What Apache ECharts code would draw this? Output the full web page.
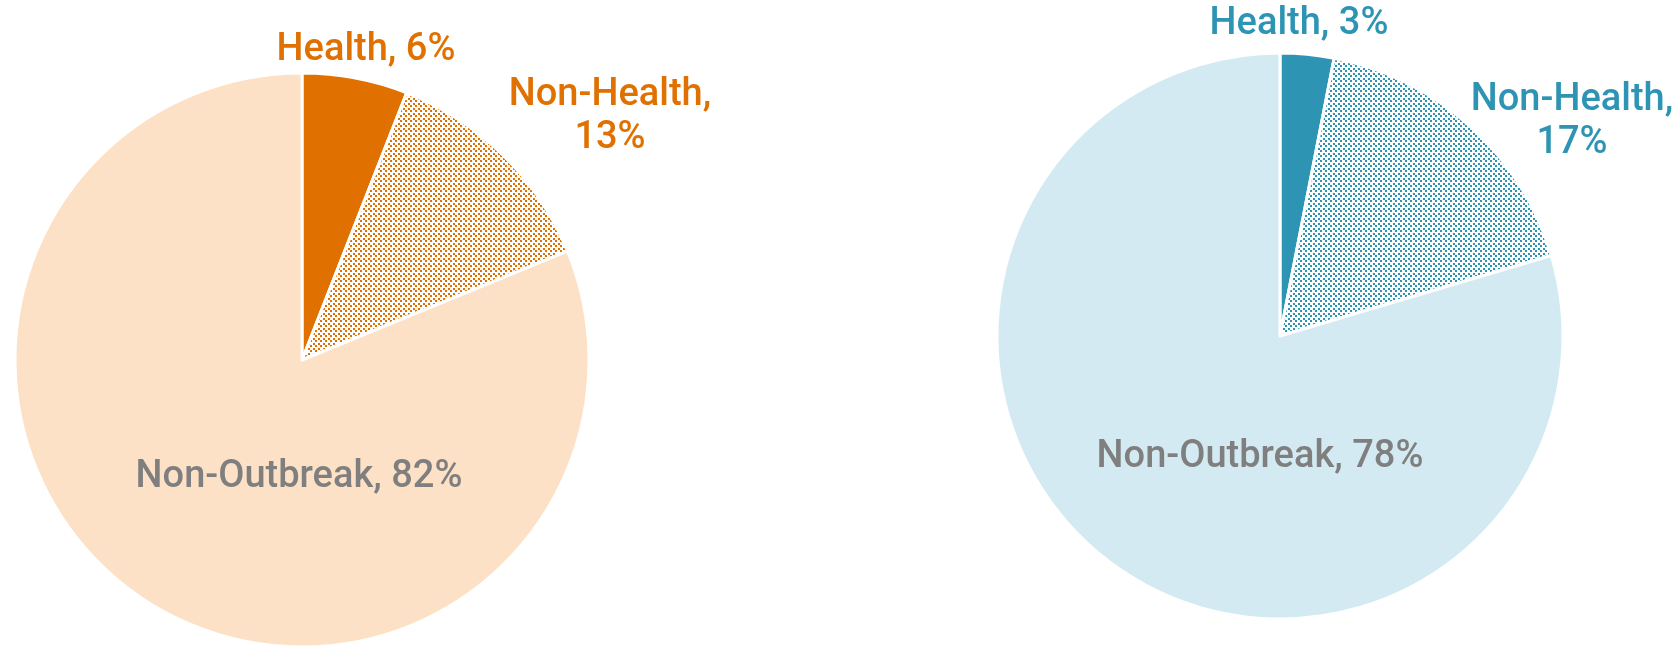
<!DOCTYPE html>
<html>
<head>
<meta charset="utf-8">
<script src="https://cdn.jsdelivr.net/npm/echarts@6/dist/echarts.min.js"></script>
<style>
  html, body { margin: 0; padding: 0; background: #ffffff; }
  #chart { width: 1673px; height: 648px; }
</style>
</head>
<body>
<div id="chart"></div>
<script>
// Share of cases by setting, two periods
const categories = ['Health', 'Non-Health', 'Non-Outbreak'];
const leftValues = [6, 13, 82];
const rightValues = [3, 17, 78];

const ORANGE = '#E07000';
const PEACH = '#FDE1C6';
const TEAL = '#2E94B3';
const ICE = '#D3EAF2';
const GREY = '#7F7F7F';
const FONT = 'Roboto, "Liberation Sans", sans-serif';

// Small staggered dot tile used to fill the "Non-Health" slice
function dotPattern(color) {
  const c = document.createElement('canvas');
  c.width = 5; c.height = 5;
  const ctx = c.getContext('2d');
  ctx.fillStyle = '#ffffff';
  ctx.fillRect(0, 0, 5, 5);
  ctx.fillStyle = color;
  ctx.fillRect(0, 0, 2, 2);
  ctx.fillRect(3, 3, 2, 2);
  return { image: c, repeat: 'repeat' };
}

function buildData(values, dark, light) {
  const fills = [dark, dotPattern(dark), light];
  const textColors = [dark, dark, GREY];
  return categories.map((name, i) => ({
    name: name,
    value: values[i],
    itemStyle: { color: fills[i] },
    label: { color: textColors[i] }
  }));
}

// label anchor offsets relative to each pie's centre
function labelPlacer(cx, cy, spots) {
  return function (params) {
    const s = spots[params.dataIndex];
    return { x: cx + s[0], y: cy + s[1], align: 'center', verticalAlign: 'middle' };
  };
}

const L = { cx: 302, cy: 360, r: 287 };
const R = { cx: 1280, cy: 336, r: 283 };

function pieSeries(pos, values, dark, light, spots) {
  return {
    type: 'pie',
    center: [pos.cx, pos.cy],
    radius: [0, pos.r],
    startAngle: 90,
    clockwise: true,
    animation: false,
    silent: true,
    data: buildData(values, dark, light),
    itemStyle: { borderColor: '#ffffff', borderWidth: 3 },
    label: {
      show: true,
      overflow: 'none',
      width: 400,
      formatter: function (p) {
        return p.name === 'Non-Health' ? p.name + ',\n' + p.value + '%' : p.name + ', ' + p.value + '%';
      },
      fontFamily: FONT,
      fontWeight: 500,
      fontSize: 38,
      lineHeight: 43
    },
    labelLine: { show: false },
    labelLayout: labelPlacer(pos.cx, pos.cy, spots)
  };
}

const chart = echarts.init(document.getElementById('chart'), null, { renderer: 'canvas' });
chart.setOption({
  backgroundColor: '#ffffff',
  series: [
    pieSeries(L, leftValues, ORANGE, PEACH, [[64, -310], [308, -243], [-3, 117]]),
    pieSeries(R, rightValues, TEAL, ICE, [[19, -312], [292, -214], [-20, 121]])
  ]
});
</script>
</body>
</html>
